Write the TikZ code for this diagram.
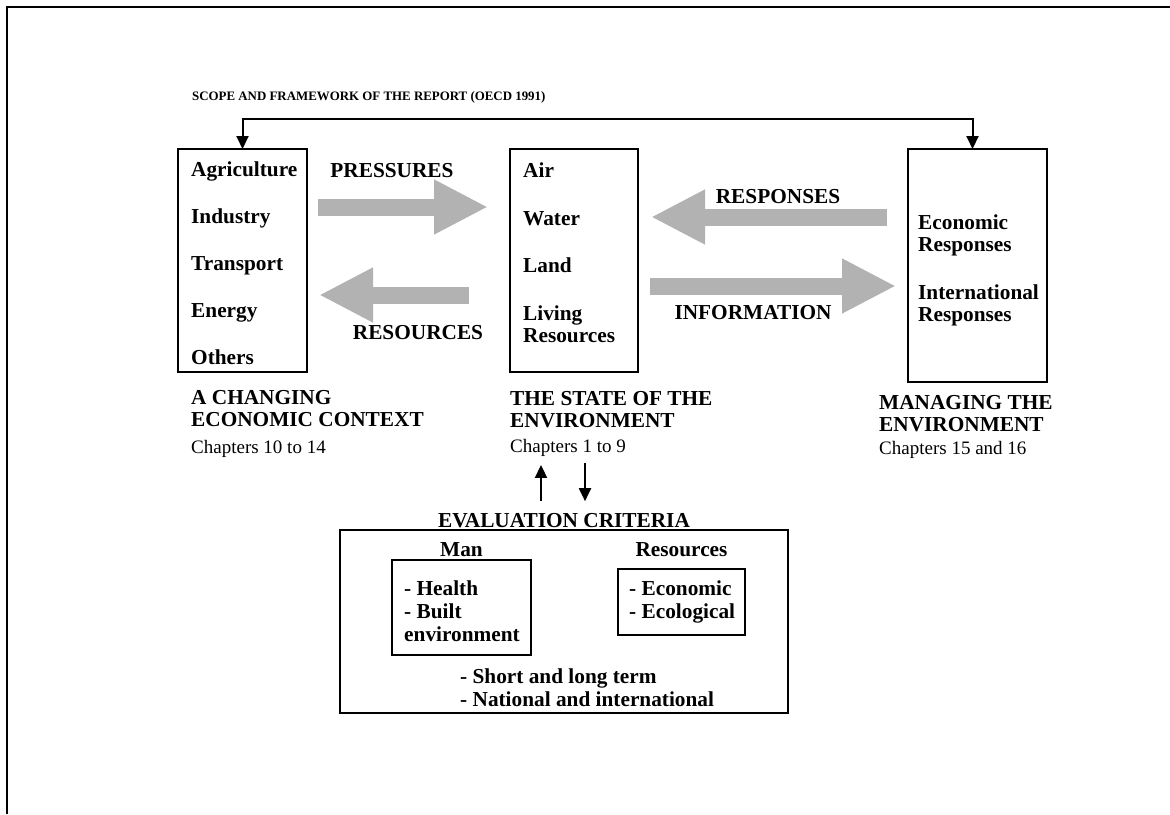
\documentclass[tikz,border=0pt]{standalone}
\usepackage{fontspec}
\setmainfont{Liberation Serif}
\usetikzlibrary{positioning,calc,arrows.meta}

\tikzset{
	box/.style = {draw, line width = 2pt, inner sep = 0pt, outer sep = 0pt, anchor = north west},
	items/.style = {align = left, inner sep = 0pt, font = \bfseries\fontsize{21.3}{22}\selectfont},
	heading/.style = {align = left, inner sep = 0pt, font = \bfseries\fontsize{21.3}{22.5}\selectfont},
	chapters/.style = {inner sep = 0pt, font = \fontsize{19}{22}\selectfont},
	flow/.style = {draw = gray!60, line width = 17pt, -{Triangle[length = 54pt, width = 51pt]}},
	link/.style = {line width = 2pt, >={Triangle[length = 13pt, width = 12pt]}}
}

\begin{document}
\begin{tikzpicture}[x = 1pt, y = -1pt]
	\useasboundingbox (0,0) rectangle (1170,814);
	\draw[line width = 2pt] (7,814) -- (7,7) -- (1170,7);
	\node[anchor = west, inner sep = 0pt, font = \bfseries\fontsize{12.9}{15}\selectfont] (title) at (192,97)
		{SCOPE AND FRAMEWORK OF THE REPORT (OECD 1991)};

	% the three columns
	\node[box, minimum width = 129pt, minimum height = 223pt] (econ) at (178,149) {};
	\node[box, minimum width = 128pt, minimum height = 223pt] (state) at (510,149) {};
	\node[box, minimum width = 139pt, minimum height = 233pt] (manage) at (908,149) {};

	\node[items, below right = 13pt and 13pt of econ.north west] (econItems)
		{Agriculture\\[25pt]Industry\\[25pt]Transport\\[25pt]Energy\\[25pt]Others};
	\node[items, below right = 14pt and 13pt of state.north west] (stateItems)
		{Air\\[25.5pt]Water\\[25.5pt]Land\\[25.5pt]Living\\Resources};
	\node[items, below right = 66pt and 10pt of manage.north west] (manageItems)
		{Economic\\Responses\\[26pt]International\\Responses};

	\node[heading, below right = 18pt and 13pt of econ.south west] (econHead) {A CHANGING\\ECONOMIC CONTEXT};
	\node[chapters, below right = 13pt and 0pt of econHead.south west] (econChap) {Chapters 10 to 14};
	\node[heading, below right = 19pt and 0pt of state.south west] (stateHead) {THE STATE OF THE\\ENVIRONMENT};
	\node[chapters, below right = 11pt and 0pt of stateHead.south west] (stateChap) {Chapters 1 to 9};
	\node[heading, below right = 13pt and -29pt of manage.south west] (manageHead) {MANAGING THE\\ENVIRONMENT};
	\node[chapters, below right = 9pt and 0pt of manageHead.south west] (manageChap) {Chapters 15 and 16};

	\draw[link, <->] (econ.north) -- ++(0,-30) -| ([xshift = -5pt]manage.north);

	% grey flows
	\draw[flow] ($(econ.east |- 0,207)+(11,0)$) -- ($(state.west |- 0,207)+(-22,0)$);
	\draw[flow] ($(state.west |- 0,295)+(-41,0)$) -- ($(econ.east |- 0,295)+(12,0)$);
	\draw[flow] ($(manage.west |- 0,217)+(-21,0)$) -- ($(state.east |- 0,217)+(13,0)$);
	\draw[flow] ($(state.east |- 0,286)+(12,0)$) -- ($(manage.west |- 0,286)+(-12,0)$);
	\node[heading] (pressLbl) at (392,171) {PRESSURES};
	\node[heading] (resLbl) at (418,333) {RESOURCES};
	\node[heading] (respLbl) at (778,197) {RESPONSES};
	\node[heading] (infoLbl) at (753,313) {INFORMATION};

	% evaluation criteria
	\node[box, minimum width = 448pt, minimum height = 183pt] (criteria) at (340,530) {};
	\node[heading, above = 2pt of criteria] (evalHead) {EVALUATION CRITERIA};
	\node[box, minimum width = 139pt, minimum height = 95pt] (man) at (392,560) {};
	\node[box, minimum width = 127pt, minimum height = 66pt] (res) at (618,569) {};
	\node[heading, above = 3pt of man] (manHead) {Man};
	\node[heading, above = 12pt of res] (resHead) {Resources};
	\node[items, font = \bfseries\fontsize{21.3}{23}\selectfont, below right = 21pt and 12pt of man.north west] (manItems)
		{- Health\\- Built\\environment};
	\node[items, font = \bfseries\fontsize{21.3}{23}\selectfont, below right = 12pt and 11pt of res.north west] (resItems)
		{- Economic\\- Ecological};
	\node[items, font = \bfseries\fontsize{21.3}{23}\selectfont, below right = 139pt and 120pt of criteria.north west] (termItems)
		{- Short and long term\\- National and international};

	\coordinate (upFoot) at ([xshift = -23pt, yshift = 12pt]evalHead.north);
	\coordinate (downFoot) at ([xshift = 21pt, yshift = 12pt]evalHead.north);
	\draw[link, ->] (upFoot) -- ($(upFoot |- stateChap.south)+(0,8)$);
	\draw[link, ->] ($(downFoot |- stateChap.south)+(0,6)$) -- (downFoot);
\end{tikzpicture}
\end{document}
